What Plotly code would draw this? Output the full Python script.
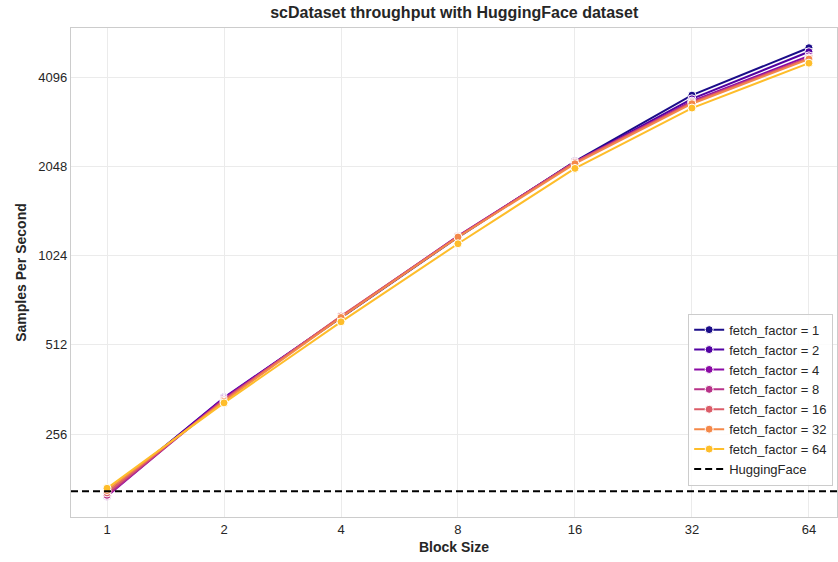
import math
import plotly.graph_objects as go

block_sizes = [1, 2, 4, 8, 16, 32, 64]
fetch_factors = [1, 2, 4, 8, 16, 32, 64]
throughput = {
    1:  [162, 338, 632, 1180, 2130, 3560, 5146],
    2:  [161, 340, 635, 1185, 2120, 3460, 4987],
    4:  [158, 338, 636, 1190, 2115, 3400, 4830],
    8:  [159, 335, 638, 1190, 2120, 3380, 4760],
    16: [162, 333, 640, 1185, 2110, 3360, 4740],
    32: [165, 330, 633, 1182, 2090, 3330, 4710],
    64: [168, 326, 612, 1122, 2015, 3220, 4563],
}
huggingface = 164
colors = ["#1b0c89", "#5302a3", "#8b0aa5", "#b83289", "#db5c68", "#f48849", "#febd2a"]
x_ticks = [1, 2, 4, 8, 16, 32, 64]
y_ticks = [256, 512, 1024, 2048, 4096]

fig = go.Figure()
for ff, c in zip(fetch_factors, colors):
    fig.add_trace(go.Scatter(
        x=block_sizes, y=throughput[ff], mode="lines+markers",
        name=f"fetch_factor = {ff}",
        line=dict(color=c, width=2),
        marker=dict(color=c, size=8, line=dict(color="white", width=1)),
    ))

fig.add_hline(y=huggingface, line=dict(color="black", width=2, dash="7px,4px"))
fig.add_trace(go.Scatter(x=[None], y=[None], mode="lines", name="HuggingFace",
                         line=dict(color="black", width=2, dash="7px,4px")))

font_family = "Liberation Sans, Arial, sans-serif"
fig.update_layout(
    width=838, height=562,
    margin=dict(l=71, r=1, t=28, b=45),
    plot_bgcolor="white", paper_bgcolor="white",
    font=dict(family=font_family, size=13, color="#262626"),
    title=dict(text="<b>scDataset throughput with HuggingFace dataset</b>",
               x=0.542, xanchor="center", y=0.978, yanchor="middle",
               font=dict(size=16, color="#262626")),
    legend=dict(x=0.995, xanchor="right", y=0.064, yanchor="bottom",
                bgcolor="rgba(255,255,255,0.85)", bordercolor="#cccccc", borderwidth=1,
                font=dict(size=13, color="#262626"), tracegroupgap=0),
    showlegend=True,
)
fig.update_xaxes(
    type="log", range=[math.log10(2 ** -0.308), math.log10(2 ** 6.24)],
    tickvals=x_ticks, ticktext=[str(v) for v in x_ticks],
    showgrid=True, gridcolor="#ebebeb", gridwidth=1,
    showline=True, linecolor="#cccccc", linewidth=1.25, mirror=True,
    ticks="", zeroline=False,
    title=dict(text="<b>Block Size</b>", font=dict(size=14), standoff=6),
)
fig.update_yaxes(
    type="log", range=[math.log10(2 ** 7.07), math.log10(2 ** 12.55)],
    tickvals=y_ticks, ticktext=[str(v) for v in y_ticks],
    showgrid=True, gridcolor="#ebebeb", gridwidth=1,
    showline=True, linecolor="#cccccc", linewidth=1.25, mirror=True,
    ticks="", zeroline=False,
    title=dict(text="<b>Samples Per Second</b>", font=dict(size=14), standoff=8),
)

fig.write_html("out.html")
